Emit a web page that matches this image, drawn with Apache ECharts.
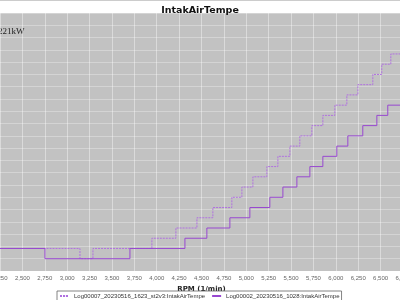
<!DOCTYPE html>
<html><head><meta charset="utf-8">
<script src="https://cdn.jsdelivr.net/npm/echarts@6/dist/echarts.min.js"></script>
<style>html,body{margin:0;padding:0;background:#fff}#c{width:400px;height:300px}</style>
</head><body><div id="c"></div>
<script>
// Series 1: Log00007 (dotted) — step change points [rpm, temp]
const rpmA = [2200, 3143, 3288, 3946, 4214, 4449, 4627, 4839, 4951, 5074, 5230, 5353, 5487, 5598, 5732, 5855, 5989, 6123, 6246, 6413, 6513, 6614, 6800];
const tempA = [25, 24, 25, 26, 27, 28, 29, 30, 31, 32, 33, 34, 35, 36, 37, 38, 39, 40, 41, 42, 43, 44, 44];
// Series 2: Log00002 (solid)
const rpmB = [2200, 2752, 3701, 4315, 4560, 4817, 5040, 5263, 5409, 5565, 5710, 5855, 6011, 6134, 6301, 6458, 6580, 6800];
const tempB = [25, 24, 25, 26, 27, 28, 29, 30, 31, 32, 33, 34, 35, 36, 37, 38, 39, 39];
const seriesNames = ['Log00007_20230516_1623_st2v3:IntakAirTempe', 'Log00002_20230516_1028:IntakAirTempe'];
const chartTitle = 'IntakAirTempe';
const xAxisName = 'RPM (1/min)';
const cornerText = '221kW';

function fmt(v){ const s = String(Math.round(v)); return s.length > 3 ? s.slice(0, s.length-3) + ',' + s.slice(-3) : s; }
const dataA = rpmA.map((r,i)=>[r, tempA[i]]);
const dataB = rpmB.map((r,i)=>[r, tempB[i]]);

const chart = echarts.init(document.getElementById('c'), null, {renderer:'canvas'});
chart.setOption({
  animation: false,
  backgroundColor: '#fff',
  title: {text: chartTitle, left: 'center', top: 1, textStyle: {fontFamily: 'DejaVu Sans', fontSize: 9.5, fontWeight: 'bold', color: '#111'}},
  grid: {left: 0, right: -3, top: 13, bottom: 29, show: true, backgroundColor: '#c2c2c2', borderWidth: 0, outerBoundsMode: 'none', containLabel: false},
  xAxis: {type: 'value', min: 2250, max: 6750, interval: 250,
    name: xAxisName, nameLocation: 'middle', nameGap: 12,
    nameTextStyle: {fontFamily: 'DejaVu Sans', fontSize: 7, fontWeight: 'bold', color: '#222'},
    axisLine: {show: false}, axisTick: {show: false},
    axisLabel: {formatter: fmt, fontFamily: 'Liberation Sans', fontSize: 6, color: '#666', margin: 4, showMinLabel: true, showMaxLabel: true, hideOverlap: false},
    splitLine: {show: true, lineStyle: {color: 'rgba(255,255,255,0.4)', width: 1}}},
  yAxis: {type: 'value', min: 22.8, max: 48, interval: 1.2,
    axisLine: {show: false}, axisTick: {show: false}, axisLabel: {show: false},
    splitLine: {show: true, lineStyle: {color: 'rgba(255,255,255,0.3)', width: 1}}},
  legend: {left: 57, top: 291, padding: [2, 2], itemGap: 6, itemWidth: 9, itemHeight: 2,
    borderColor: '#666', borderWidth: 0.8, backgroundColor: '#fff',
    textStyle: {fontFamily: 'Liberation Sans', fontSize: 6, color: '#333'},
    data: seriesNames},
  series: [
    {name: seriesNames[0], type: 'line', step: 'end', data: dataA, symbol: 'none',
     lineStyle: {color: '#b070e0', width: 1, type: [2, 1]}, itemStyle: {color: '#b070e0'}},
    {name: seriesNames[1], type: 'line', step: 'end', data: dataB, symbol: 'none',
     lineStyle: {color: '#9848d0', width: 1}, itemStyle: {color: '#9848d0'}}
  ],
  graphic: [
    {type: 'line', shape: {x1: 0, y1: 0.5, x2: 400, y2: 0.5}, style: {stroke: '#ccc', lineWidth: 1}},
    {type: 'text', left: -2, top: 27, style: {text: cornerText, fontFamily: 'Liberation Serif', fontSize: 9, fill: '#222'}}
  ]
});
</script></body></html>
